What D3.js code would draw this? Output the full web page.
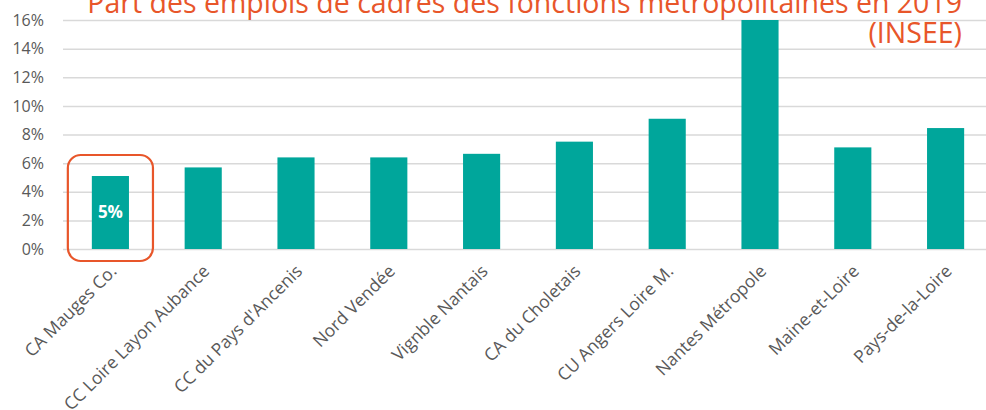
<!DOCTYPE html>
<html lang="fr">
<head>
<meta charset="UTF-8">
<title>Part des emplois de cadres des fonctions métropolitaines</title>
<script src="https://d3js.org/d3.v7.min.js"></script>
<style>
  body { margin: 0; background: #fff; }
  svg text { font-family: "Open Sans", "DejaVu Sans", sans-serif; }
</style>
</head>
<body>
<svg id="chart" width="986" height="410"></svg>
<script>
// données (en %)
var territoires = ['CA Mauges Co.', 'CC Loire Layon Aubance', "CC du Pays d'Ancenis", 'Nord Vendée',
  'Vignble Nantais', 'CA du Choletais', 'CU Angers Loire M.', 'Nantes Métropole', 'Maine-et-Loire', 'Pays-de-la-Loire'];
var parts = [5.1, 5.7, 6.4, 6.4, 6.65, 7.5, 9.1, 17.0, 7.1, 8.45];
var yTicks = [0, 2, 4, 6, 8, 10, 12, 14, 16];
var titre = ['Part des emplois de cadres des fonctions métropolitaines en 2019', '(INSEE)'];
var focus = 'CA Mauges Co.';
var focusLabel = '5%';

var svg = d3.select('#chart');
var margin = { left: 63, right: 0, top: 20, bottom: 161 };
var width = +svg.attr('width');
var height = +svg.attr('height');

var x = d3.scaleBand()
    .domain(territoires)
    .range([64, 992])
    .paddingInner(0.6)
    .paddingOuter(0.3);

var y = d3.scaleLinear()
    .domain([0, 16])
    .range([249, 20])
    .clamp(true);

// grille
var yAxis = d3.axisLeft(y)
    .tickValues(yTicks)
    .tickFormat(d => d + '%')
    .tickSize(-(width - margin.left))
    .tickPadding(19);

var yAxisG = svg.append('g')
    .attr('transform', `translate(${margin.left},0)`)
    .call(yAxis);
yAxisG.select('.domain').remove();
yAxisG.selectAll('line').attr('stroke', '#d9d9d9').attr('stroke-width', 1.5);
yAxisG.selectAll('text')
    .attr('fill', '#595959')
    .style('font-size', '16px');

// barres
svg.append('g').selectAll('rect')
  .data(territoires)
  .enter().append('rect')
    .attr('x', d => x(d))
    .attr('width', x.bandwidth())
    .attr('y', (d, i) => y(parts[i]))
    .attr('height', (d, i) => y(0) - y(parts[i]))
    .attr('fill', '#00a69b');

// étiquettes de l'axe x
var xAxisG = svg.append('g');
xAxisG.selectAll('text')
  .data(territoires)
  .enter().append('text')
    .attr('transform', d => `translate(${x(d) + x.bandwidth() / 2 + 3},${268}) rotate(-45)`)
    .attr('text-anchor', 'end')
    .attr('dy', '0.35em')
    .attr('fill', '#595959')
    .style('font-size', '17.5px')
    .text(d => d);

// mise en avant
var fx = x(focus);
var fi = territoires.indexOf(focus);
svg.append('rect')
    .attr('x', fx - 24)
    .attr('y', 155)
    .attr('width', x.bandwidth() + 48)
    .attr('height', 106)
    .attr('rx', 13)
    .attr('fill', 'none')
    .attr('stroke', '#e8562a')
    .attr('stroke-width', 2.2);

svg.append('text')
    .attr('x', fx + x.bandwidth() / 2)
    .attr('y', (y(parts[fi]) + y(0)) / 2)
    .attr('dy', '0.35em')
    .attr('text-anchor', 'middle')
    .attr('fill', '#fff')
    .style('font-size', '17px')
    .style('font-weight', 'bold')
    .text(focusLabel);

// titre
svg.append('g').selectAll('text')
  .data(titre)
  .enter().append('text')
    .attr('x', 962)
    .attr('y', (d, i) => 13 + i * 30)
    .attr('text-anchor', 'end')
    .attr('fill', '#e8562a')
    .style('font-family', '"Open Sans", sans-serif')
    .style('font-size', '28.5px')
    .text(d => d);
</script>
</body>
</html>
